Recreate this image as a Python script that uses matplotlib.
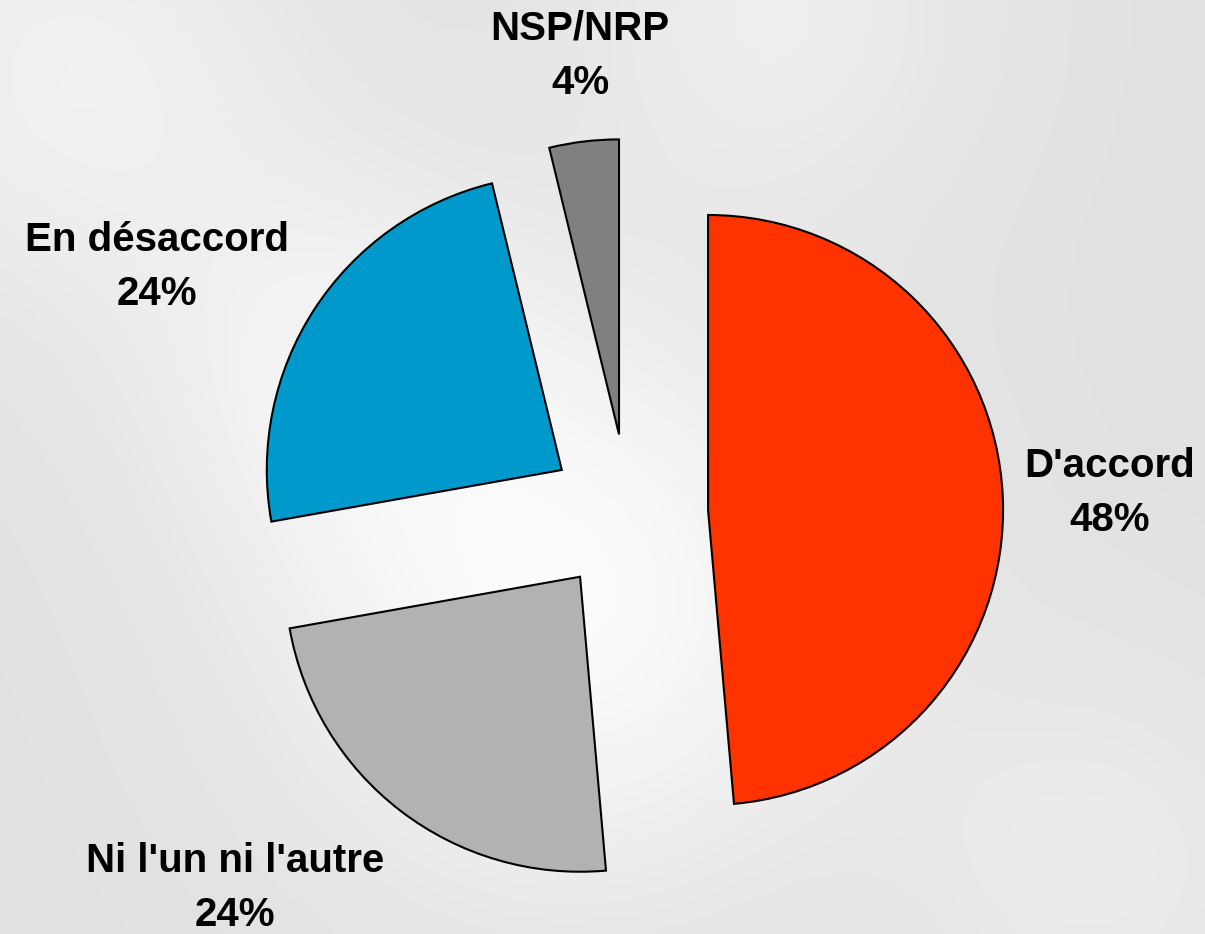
import numpy as np
from matplotlib import pyplot as plt

categories = ["D'accord", "Ni l'un ni l'autre", "En désaccord", "NSP/NRP"]
values = [48.6, 23.6, 24.0, 3.8]
shown_pct = [48, 24, 24, 4]
colors = ['#FF3300', '#B2B2B2', '#0099CC', '#808080']

# label centres (data units, pie radius = 1)
label_pos = [(1.632, 0.069), (-1.334, -1.269), (-1.598, 0.836), (-0.164, 1.551)]

fig = plt.figure(figsize=(12.05, 9.34), dpi=100)
ax = fig.add_axes([0, 0, 1, 1])

xlim = (-628.5 / 295, (1205 - 628.5) / 295)
ylim = (-420.5 / 295, (934 - 420.5) / 295)

# soft grey backdrop
gx, gy = np.meshgrid(np.linspace(xlim[0], xlim[1], 400), np.linspace(ylim[0], ylim[1], 300))
bg = 0.88 + 0.0 * gx
for cx, cy, s, a in [(-0.2, -0.3, 0.7, 0.10), (-1.9, 1.5, 0.6, 0.06), (0.5, 1.7, 0.5, 0.05),
                     (-1.0, 0.5, 0.5, 0.05), (1.6, -1.2, 0.5, 0.04)]:
    bg += a * np.exp(-((gx - cx) ** 2 + (gy - cy) ** 2) / (2 * s ** 2))
bg = np.clip(bg, 0, 1)
ax.imshow(bg, cmap='gray', vmin=0, vmax=1, extent=[xlim[0], xlim[1], ylim[0], ylim[1]],
          origin='lower', zorder=0, aspect='auto')

wedges, _ = ax.pie(values, colors=colors, startangle=90, counterclock=False,
                   explode=[0.27] * 4, radius=1,
                   wedgeprops=dict(edgecolor='black', linewidth=1.5))
for w in wedges:
    w.set_zorder(2)

for name, p, (lx, ly) in zip(categories, shown_pct, label_pos):
    ax.text(lx, ly, name + '\n' + str(p) + '%', ha='center', va='center',
            fontsize=29, fontweight='bold', family='Liberation Sans',
            linespacing=1.55, zorder=3)

ax.set_xlim(xlim)
ax.set_ylim(ylim)
ax.set_aspect('auto')
ax.axis('off')

plt.savefig('out.png', dpi=100)
